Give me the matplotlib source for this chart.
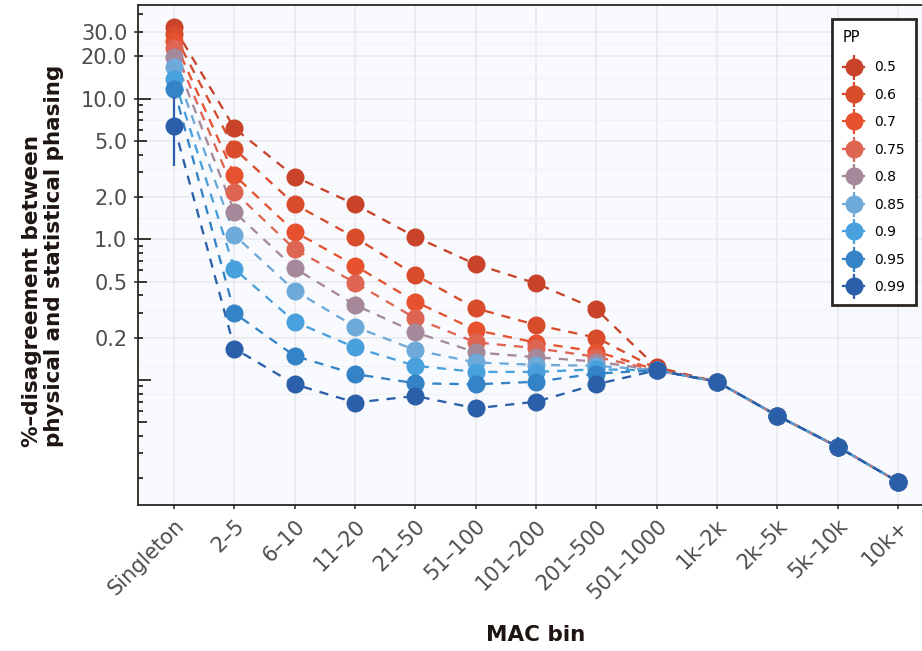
import matplotlib
matplotlib.use('Agg')
import matplotlib.pyplot as plt
import numpy as np
from matplotlib.lines import Line2D
from matplotlib.legend_handler import HandlerTuple
from matplotlib.ticker import FixedLocator, FixedFormatter, NullLocator
from matplotlib.transforms import blended_transform_factory

plt.rcParams['font.family'] = ['DejaVu Sans']

mac_bins = ['Singleton', '2–5', '6–10', '11–20', '21–50', '51–100', '101–200',
            '201–500', '501–1000', '1k–2k', '2k–5k', '5k–10k', '10k+']

pp_levels = ['0.5', '0.6', '0.7', '0.75', '0.8', '0.85', '0.9', '0.95', '0.99']

pp_colors = ['#C8432A', '#D84B2B', '#E6522F', '#DF6553', '#A5899A',
             '#6DA9D9', '#48A1DC', '#3483C7', '#2B5FA9']

pp_050 = [32.2, 6.16, 2.79, 1.77, 1.04, 0.664, 0.486, 0.318, 0.123, 0.097, 0.0557, 0.0335, 0.0189]
pp_060 = [28.7, 4.39, 1.77, 1.03, 0.557, 0.323, 0.246, 0.200, 0.120, 0.097, 0.0557, 0.0335, 0.0189]
pp_070 = [25.9, 2.85, 1.13, 0.649, 0.360, 0.226, 0.184, 0.159, 0.118, 0.097, 0.0557, 0.0335, 0.0189]
pp_075 = [22.8, 2.17, 0.849, 0.491, 0.274, 0.185, 0.168, 0.146, 0.117, 0.097, 0.0557, 0.0335, 0.0189]
pp_080 = [19.9, 1.56, 0.622, 0.341, 0.218, 0.157, 0.145, 0.135, 0.117, 0.097, 0.0557, 0.0335, 0.0189]
pp_085 = [16.9, 1.07, 0.431, 0.239, 0.163, 0.133, 0.128, 0.126, 0.117, 0.097, 0.0557, 0.0335, 0.0189]
pp_090 = [13.8, 0.615, 0.259, 0.170, 0.126, 0.114, 0.114, 0.119, 0.117, 0.097, 0.0557, 0.0335, 0.0189]
pp_095 = [11.7, 0.298, 0.148, 0.110, 0.0946, 0.093, 0.097, 0.111, 0.117, 0.097, 0.0557, 0.0335, 0.0189]
pp_099 = [6.40, 0.167, 0.093, 0.069, 0.0768, 0.0628, 0.070, 0.093, 0.117, 0.097, 0.0557, 0.0335, 0.0189]

# error range of the 0.99 series (the only one visible on top)
pp_099_lo = [3.30, 0.152, 0.084, 0.062, 0.070, 0.057, 0.064, 0.086, 0.110, 0.091, 0.052, 0.0285, 0.0172]
pp_099_hi = [10.2, 0.184, 0.103, 0.078, 0.085, 0.069, 0.077, 0.100, 0.124, 0.103, 0.060, 0.0395, 0.0208]

series = [pp_050, pp_060, pp_070, pp_075, pp_080, pp_085, pp_090, pp_095, pp_099]

y_breaks = [0.2, 0.5, 1.0, 2.0, 5.0, 10.0, 20.0, 30.0]
y_labels = ['0.2', '0.5', '1.0', '2.0', '5.0', '10.0', '20.0', '30.0']

W, H = 922, 651
fig = plt.figure(figsize=(W / 100, H / 100), dpi=100)
fig.patch.set_facecolor('white')

L, R, T, B = 138, 934, 5, 505
ax = fig.add_axes([L / W, 1 - B / H, (R - L) / W, (B - T) / H])
ax.set_facecolor('#F8FAFD')

x = np.arange(len(mac_bins))
dark = '#2B2622'

for vals, col in zip(series, pp_colors):
    ax.plot(x, vals, color=col, lw=1.65, ls=(0, (4, 3.5)), zorder=3, solid_capstyle='butt')
for vals, col in zip(series, pp_colors):
    ax.plot(x, vals, ls='none', marker='o', ms=13, mew=0, color=col, zorder=4)
ax.vlines(x, pp_099_lo, pp_099_hi, color=pp_colors[-1], lw=1.6, zorder=4.5)

ax.set_yscale('log')
ax.set_ylim(10 ** -1.8898, 10 ** 1.6664)
ax.set_xlim(-0.6, 12.6)

ax.yaxis.set_major_locator(FixedLocator(y_breaks))
ax.yaxis.set_major_formatter(FixedFormatter(y_labels))

# ggplot-like minor breaks (midpoints in log space, extended one step)
b = np.log10(y_breaks)
bd = b[1] - b[0]
bext = np.concatenate([[b[0] - bd], b, [b[-1] + bd]])
mids = (bext[:-1] + bext[1:]) / 2
minor = np.unique(np.concatenate([mids, [bext[0]]]))
ax.yaxis.set_minor_locator(FixedLocator(10 ** minor))
ax.yaxis.set_minor_formatter(plt.NullFormatter())

ax.set_xticks(x)
ax.set_xticklabels(mac_bins, rotation=45, ha='right', va='top', rotation_mode='anchor')
ax.xaxis.set_minor_locator(NullLocator())

ax.grid(which='major', color='#E8E9EB', lw=1.1, zorder=0)
ax.grid(which='minor', axis='y', color='#EFF0F2', lw=0.6, zorder=0)
ax.set_axisbelow(True)

ax.tick_params(axis='both', which='major', direction='out', length=3.2, width=1.1,
               color=dark, labelcolor='#4D4D4D', labelsize=15, pad=4.5)
ax.tick_params(axis='y', which='minor', length=0)
for sp in ax.spines.values():
    sp.set_color(dark)
    sp.set_linewidth(1.3)

# log ticks inside the panel on the left
tr = blended_transform_factory(ax.transAxes, ax.transData)
pw = R - L
ylo, yhi = ax.get_ylim()
for k in range(-2, 2):
    for m in range(1, 10):
        v = m * 10.0 ** k
        if v < ylo or v > yhi:
            continue
        ln = 13 if m == 1 else (8.7 if m == 5 else 5)
        ax.plot([0, ln / pw], [v, v], transform=tr, color=dark, lw=1.3,
                solid_capstyle='butt', zorder=6, clip_on=False)

# axis titles
fig.text(536 / W, 1 - 635 / H, 'MAC bin', ha='center', va='center',
         fontsize=15.5, fontweight='bold', color='#1E1512')
fig.text(43 / W, 1 - 256 / H, '%–disagreement between\nphysical and statistical phasing',
         ha='center', va='center', rotation=90, multialignment='left',
         fontsize=15.5, fontweight='bold', color='#1E1512', linespacing=1.15)

# legend
handles = []
for col in pp_colors:
    vbar = Line2D([], [], color=col, ls='none', marker='|', ms=18, mew=1.6)
    pt = Line2D([], [], color=col, ls='-', lw=1.6, marker='o', ms=13, mew=0)
    handles.append((vbar, pt))
leg = ax.legend(handles, pp_levels, title='PP', loc='upper left',
                bbox_to_anchor=(832 / W, 1 - 19 / H), bbox_transform=fig.transFigure,
                handler_map={tuple: HandlerTuple(ndivide=1)},
                frameon=True, fancybox=False, edgecolor=dark, facecolor='white',
                framealpha=1, fontsize=10, title_fontsize=10.5, handlelength=1.5,
                handletextpad=0.7, labelspacing=0.97, borderpad=0.8, borderaxespad=0)
leg._legend_box.align = 'left'
leg._legend_box.sep = 11
leg.get_frame().set_linewidth(2.0)
leg.set_zorder(10)

fig.savefig('out.png', dpi=100, facecolor='white')
